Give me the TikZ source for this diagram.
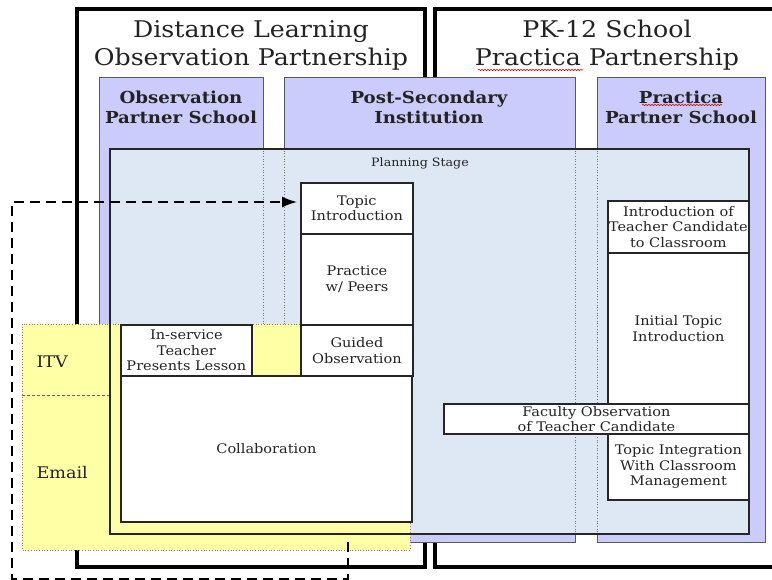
\documentclass[tikz,border=0pt]{standalone}
\usepackage{fontspec}
\setmainfont{DejaVu Serif}[FakeStretch=1.1]
\usetikzlibrary{arrows.meta,decorations.pathmorphing}
\definecolor{lav}{RGB}{204,204,252}
\definecolor{plan}{RGB}{222,232,244}
\definecolor{yel}{RGB}{255,255,165}
\definecolor{txt}{RGB}{35,35,35}
\begin{document}
\begin{tikzpicture}[x=1pt,y=-1pt,
  outerbox/.style={draw=black,line width=4pt,fill=white},
  colbox/.style={draw=black!65,line width=0.9pt,fill=lav},
  wbox/.style={draw=black!85,line width=1.8pt,fill=white,inner sep=0pt,
    anchor=north west,align=center,text=txt,
    font=\fontsize{13.2}{15.5}\selectfont},
  titletxt/.style={align=center,text=txt,font=\fontsize{23}{28}\selectfont},
  headtxt/.style={align=center,text=txt,font=\bfseries\fontsize{16.5}{20}\selectfont},
  sidetxt/.style={anchor=west,text=txt,font=\fontsize{16}{18}\selectfont},
  colsep/.style={draw=black!55,line width=0.7pt,dotted},
  flow/.style={draw=black,line width=1.6pt,dash pattern=on 10pt off 6pt},
  squig/.style={draw=red!85!black,line width=0.6pt,decorate,
    decoration={snake,amplitude=0.7pt,segment length=3pt}}
]
\useasboundingbox (0,0) rectangle (772,580);
\clip (0,0) rectangle (772,580);
\fill[white] (0,0) rectangle (772,580);

% outer partnership boxes
\node[outerbox,minimum width=348pt,minimum height=558pt,anchor=north west,inner sep=0pt] (leftp) at (75,7) {};
\node[outerbox,minimum width=357pt,minimum height=558pt,anchor=north west,inner sep=0pt] (rightp) at (433,7) {};
\node[titletxt] (t1) at (251,45) {Distance Learning\\Observation Partnership};
\node[titletxt] (t2) at (607,45) {PK-12 School\\Practica Partnership};

% columns
\node[colbox,minimum width=164pt,minimum height=465pt,anchor=north west,inner sep=0pt] (obs) at (99,77) {};
\node[colbox,minimum width=291pt,minimum height=465pt,anchor=north west,inner sep=0pt] (post) at (284,77) {};
\node[colbox,minimum width=168pt,minimum height=465pt,anchor=north west,inner sep=0pt] (prac) at (597,77) {};
\node[headtxt] (h1) at (181,107) {Observation\\Partner School};
\node[headtxt] (h2) at (429,107) {Post-Secondary\\Institution};
\node[headtxt] (h3) at (681,107) {Practica\\Partner School};

% planning stage
\fill[plan] (109,148) rectangle (748,533);
\draw[colsep] (263,148) -- (263,533);
\draw[colsep] (284,148) -- (284,533);
\draw[colsep] (575,148) -- (575,533);
\draw[colsep] (597,148) -- (597,533);
\node[text=txt,font=\fontsize{11.5}{13}\selectfont] (plabel) at (420,163) {Planning Stage};

% yellow communication region
\draw[fill=yel,draw=black!50,line width=0.7pt,dotted] (22,324) rectangle (410,550);
\draw[draw=black!60,line width=0.7pt,densely dashed] (22,395) -- (109,395);
\node[sidetxt] (itv) at (33,362) {ITV};
\node[sidetxt] (email) at (33,473) {Email};

% planning border on top
\node[draw=black!85,line width=1.8pt,minimum width=639pt,minimum height=385pt,anchor=north west,inner sep=0pt] (plan) at (109,148) {};

% activity boxes
\node[wbox,minimum width=112pt,minimum height=51pt] (topic) at (300,182) {Topic\\Introduction};
\node[wbox,minimum width=112pt,minimum height=91pt] (practice) at (300,233) {Practice\\w/ Peers};
\node[wbox,minimum width=112pt,minimum height=51pt] (guided) at (300,324) {Guided\\Observation};
\node[wbox,minimum width=131pt,minimum height=51pt] (inserv) at (120,324) {In-service\\Teacher\\Presents Lesson};
\node[wbox,minimum width=291pt,minimum height=146pt] (collab) at (120,375) {Collaboration};
\node[wbox,minimum width=141pt,minimum height=52pt] (introtc) at (607,200) {Introduction of\\Teacher Candidate\\to Classroom};
\node[wbox,minimum width=141pt,minimum height=151pt] (initial) at (607,252) {Initial Topic\\Introduction};
\node[wbox,minimum width=141pt,minimum height=66pt] (integ) at (607,433) {Topic Integration\\With Classroom\\Management};
\node[wbox,minimum width=305pt,minimum height=30pt] (faculty) at (443,403) {Faculty Observation\\of Teacher Candidate};

% spell-check underlines
\draw[squig] (478,70) -- (583,70);
\draw[squig] (642,105) -- (722,105);

% dashed feedback connector
\coordinate (fstart) at (348,542);
\coordinate (fend) at (297,202);
\draw[flow,-{Latex[length=15pt,width=11pt]}] (fstart) -- (348,579) -- (12,579) -- (12,202) -- (fend);
\end{tikzpicture}
\end{document}
